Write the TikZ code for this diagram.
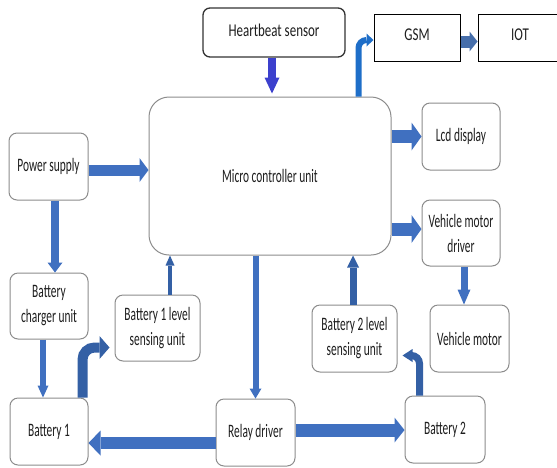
\documentclass[tikz,border=0pt]{standalone}
\usepackage{fontspec}
\newfontfamily\fa{Carlito}[FakeStretch=0.6]
\newfontfamily\fb{Carlito}[FakeStretch=0.72]
\usetikzlibrary{arrows.meta}
\definecolor{ab}{RGB}{64,112,192}
\definecolor{abd}{RGB}{52,96,165}
\definecolor{hbc}{RGB}{60,64,205}
\definecolor{gsmc}{RGB}{30,110,200}
\definecolor{iotc}{RGB}{70,110,170}
\definecolor{txt}{RGB}{30,30,30}
\begin{document}
\begin{tikzpicture}[x=1pt,y=-1pt,
  sz/.style 2 args={minimum width=#1pt, minimum height=#2pt},
  box/.style={draw=black!45, line width=1pt, rounded corners=8pt, align=center,
    text=txt, font=\fa\fontsize{19}{25}\selectfont, inner sep=0pt, fill=white},
  sqbox/.style={draw=black, line width=1pt, text=txt,
    font=\fb\fontsize{18}{22}\selectfont, inner sep=0pt, fill=white},
  blk/.style n args={3}{draw=ab, line width=#1pt,
    -{Triangle[width=#2pt, length=#3pt, line width=0pt]}},
]
\useasboundingbox (0,0) rectangle (557,467);
\clip (0,0) rectangle (557,467);

% nodes
\node[sqbox, sz={142}{49}, draw=black!80, line width=1.3pt, rounded corners=7pt] (hb) at (274,32.5) {\raisebox{4pt}{Heartbeat sensor}};
\node[sqbox, sz={86}{47}] (gsm) at (417,37.5) {\raisebox{5pt}{GSM}};
\node[sqbox, sz={84}{47}] (iot) at (520,37.5) {\raisebox{5pt}{IOT}};
\node[box, sz={242}{158}, rounded corners=20pt] (mcu) at (270,176) {Micro controller unit};
\node[box, sz={79}{67}] (ps) at (48.5,166.5) {Power supply};
\node[box, sz={78}{67}] (lcd) at (461,136.5) {Lcd display};
\node[box, sz={78}{66}] (vmd) at (461,233) {Vehicle motor\\driver};
\node[box, sz={78}{66}] (bcu) at (49,306) {Battery\\charger unit};
\node[box, sz={85}{66}] (b1ls) at (157.5,328) {Battery 1 level\\sensing unit};
\node[box, sz={85}{67}] (b2ls) at (354.5,338.5) {Battery 2 level\\sensing unit};
\node[box, sz={79}{67}] (vm) at (469.5,338.5) {Vehicle motor};
\node[box, sz={78}{67}] (b1) at (49,431.5) {Battery 1};
\node[box, sz={79}{67}] (rd) at (255.5,432.5) {Relay driver};
\node[box, sz={80}{67}] (b2) at (445,429.5) {Battery 2};

% connectors
\draw[blk={8}{15}{16}, draw=hbc, shorten >=3pt] ([xshift=-2pt]hb.south) -- ([xshift=-2pt]hb.south |- mcu.north);
\draw[blk={11}{24}{9}] ([yshift=-3.5pt]ps.east) -- ([yshift=-3.5pt]ps.east -| mcu.west);
\draw[blk={8}{15}{10}] ([xshift=6.5pt]ps.south) -- ([xshift=6.5pt]ps.south |- bcu.north);
\draw[blk={6}{11}{12}] ([xshift=-6pt]bcu.south) -- ([xshift=-6pt]bcu.south |- b1.north);
\draw[blk={10}{23}{10}, draw=abd, rounded corners=12pt] ([xshift=-6pt]b1.north east) |- ([xshift=-5pt,yshift=14pt]b1ls.south west);
\draw[blk={4}{9}{10}, draw=abd] ([xshift=12.5pt]b1ls.north) -- ([xshift=12.5pt]b1ls.north |- mcu.south);
\draw[blk={6}{12}{10}] (rd.north |- mcu.south) -- (rd.north);
\draw[blk={12}{25}{12}] ([yshift=-10.5pt]rd.west) -- ([yshift=-10.5pt]rd.west -| b1.east);
\draw[blk={13}{25}{10}] ([yshift=2.5pt]rd.east) -- ([yshift=2.5pt]rd.east -| b2.west);
\draw[blk={7}{13}{10}, draw=abd, rounded corners=8pt] ([xshift=15pt]b2.north west) |- ([xshift=5pt,yshift=17pt]b2ls.south east);
\draw[blk={7}{12}{12}, draw=abd] ([xshift=-1.5pt]b2ls.north) -- ([xshift=-1.5pt]b2ls.north |- mcu.south);
\draw[blk={13}{28}{10}] (lcd.west -| mcu.east) -- (lcd.west);
\draw[blk={13}{28}{10}] ([yshift=4pt]vmd.west -| mcu.east) -- ([yshift=4pt]vmd.west);
\draw[blk={7}{13}{15}] ([xshift=3pt]vmd.south) -- ([xshift=3pt]vmd.south |- vm.north);
\draw[blk={6}{13}{7}, draw=gsmc, rounded corners=8pt] ([xshift=-33pt]mcu.north east) |- ([yshift=-2.5pt]gsm.west);
\draw[blk={12}{20}{8}, draw=iotc] ([yshift=-4pt]gsm.east) -- ([yshift=-4pt]iot.west);
\end{tikzpicture}
\end{document}
